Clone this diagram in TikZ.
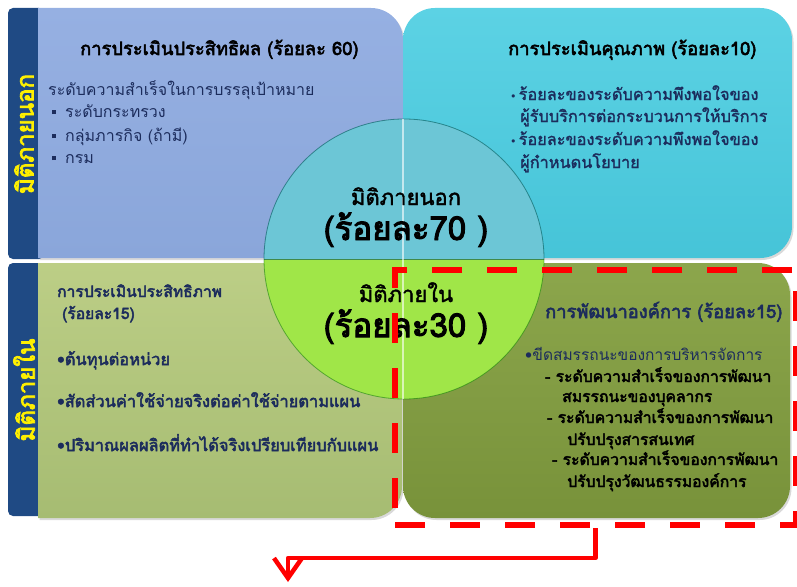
\documentclass[tikz,border=0pt]{standalone}
\usepackage{fontspec}
\newfontfamily\thai[Script=Thai]{Loma}
\newfontfamily\thaiB[Script=Thai,FakeBold=3]{Loma}
\newfontfamily\thaiM[Script=Thai,FakeBold=1.6]{Loma}
\newfontfamily\sym{DejaVu Sans}
\usetikzlibrary{arrows.meta,shadows}

\definecolor{barblue}{RGB}{31,74,132}
\definecolor{bartxt}{RGB}{255,240,0}
\definecolor{navy}{RGB}{28,44,92}
\definecolor{tlA}{RGB}{150,176,226}
\definecolor{tlB}{RGB}{138,166,218}
\definecolor{trA}{RGB}{92,210,228}
\definecolor{trB}{RGB}{70,196,216}
\definecolor{blA}{RGB}{188,206,134}
\definecolor{blB}{RGB}{166,188,114}
\definecolor{brA}{RGB}{140,166,76}
\definecolor{brB}{RGB}{120,146,58}
\definecolor{ctop}{RGB}{108,198,214}
\definecolor{cbot}{RGB}{160,230,72}
\definecolor{hotred}{RGB}{255,0,0}

\tikzset{
  boxshadow/.style={drop shadow={shadow xshift=1.5pt,shadow yshift=-2pt,opacity=0.25,fill=black!60}},
  txt/.style={anchor=base west,inner sep=0pt,font=\thai\fontsize{16}{18}\selectfont},
  tlbody/.style={txt,text=navy},
  trbody/.style={txt,text=navy,font=\thaiM\fontsize{16.3}{18}\selectfont},
  blbody/.style={txt,text=navy,font=\thaiB\fontsize{16.4}{18}\selectfont},
  brlead/.style={txt,text=navy,font=\thai\fontsize{15.5}{18}\selectfont},
  brbody/.style={txt,font=\thaiB\fontsize{15.7}{18}\selectfont},
  btxt/.style={txt,font=\thaiB\fontsize{18.3}{20}\selectfont},
  blhead/.style={txt,text=navy,font=\thaiB\fontsize{15.6}{18}\selectfont},
  bartext/.style={inner sep=0pt,text=bartxt,font=\thaiB\fontsize{24}{26}\selectfont},
  ctxt/.style={anchor=base,inner sep=0pt,font=\thaiM\fontsize{22}{24}\selectfont},
  cbig/.style={anchor=base,inner sep=0pt,font=\thaiB\fontsize{33}{35}\selectfont},
  focusbox/.style={draw=hotred,line width=6pt,dash pattern=on 30pt off 25pt,
    minimum width=401pt,minimum height=255pt,inner sep=0pt},
  pointer/.style={draw=hotred,line width=4.5pt,line join=round,
    -{Straight Barb[length=20pt,width=28pt,line width=4.5pt]}},
}

\begin{document}
\begin{tikzpicture}[x=1pt,y=-1pt]
\useasboundingbox (0,0) rectangle (797,586);

% side bars
\fill[barblue,rounded corners=5pt] (8,8) rectangle (44,259);
\fill[barblue,rounded corners=5pt] (8,263) rectangle (44,516);

% four quadrant boxes
\shade[boxshadow,top color=tlA,bottom color=tlB]
  (38,8) -- (371,8) arc[start angle=-90,end angle=0,radius=32] -- (403,258) -- (38,258) -- cycle;
\shade[boxshadow,top color=trA,bottom color=trB]
  (435,8) -- (760,8) arc[start angle=-90,end angle=0,radius=32]
  -- (792,226) arc[start angle=0,end angle=90,radius=32]
  -- (403,258) -- (403,40) arc[start angle=180,end angle=270,radius=32] -- cycle;
\shade[boxshadow,top color=blA,bottom color=blB]
  (38,263) -- (402,263) -- (402,486) arc[start angle=0,end angle=90,radius=32]
  -- (38,518) -- cycle;
\shade[boxshadow,top color=brA,bottom color=brB]
  (403,263) -- (758,263) arc[start angle=-90,end angle=0,radius=32]
  -- (790,486) arc[start angle=0,end angle=90,radius=32]
  -- (435,518) arc[start angle=90,end angle=180,radius=32] -- cycle;

% central disc
\fill[ctop] (264,259) arc[start angle=180,end angle=360,radius=140] -- cycle;
\fill[cbot] (544,259) arc[start angle=0,end angle=180,radius=140] -- cycle;
\draw[teal!70!black,line width=0.8pt,opacity=0.6] (264,259) arc[start angle=180,end angle=360,radius=140];
\draw[green!45!black,line width=0.8pt,opacity=0.5] (544,259) arc[start angle=0,end angle=180,radius=140];
\draw[teal!60!black,line width=1pt,opacity=0.6] (264,259) -- (544,259);
\draw[white,line width=1.2pt,opacity=0.6] (403,119) -- (403,399);

% side bar labels
\node[bartext,rotate=90] (outerlbl) at (24,134) {มิติภายนอก};
\node[bartext,rotate=90] (innerlbl) at (24,390) {มิติภายใน};

% top left: effectiveness
\node[btxt] (tltitle) at (80,55) {การประเมินประสิทธิผล (ร้อยละ 60)};
\node[tlbody] (tl1) at (48,95) {ระดับความสำเร็จในการบรรลุเป้าหมาย};
\node[tlbody] (tl2) at (52,117) {\rule[3pt]{4pt}{4pt}\hspace{9pt}ระดับกระทรวง};
\node[tlbody] (tl3) at (52,141) {\rule[3pt]{4pt}{4pt}\hspace{9pt}กลุ่มภารกิจ (ถ้ามี)};
\node[tlbody] (tl4) at (52,163) {\rule[3pt]{4pt}{4pt}\hspace{9pt}กรม};

% top right: quality
\node[btxt] (trtitle) at (508,55) {การประเมินคุณภาพ (ร้อยละ10)};
\node[trbody] (tr1) at (510,100) {{\sym\fontsize{11}{12}\selectfont •}\hspace{2pt}ร้อยละของระดับความพึงพอใจของ};
\node[trbody] (tr2) at (520,122) {ผู้รับบริการต่อกระบวนการให้บริการ};
\node[trbody] (tr3) at (510,145) {{\sym\fontsize{11}{12}\selectfont •}\hspace{2pt}ร้อยละของระดับความพึงพอใจของ};
\node[trbody] (tr4) at (520,168) {ผู้กำหนดนโยบาย};

% bottom left: efficiency
\node[blhead] (bltitle) at (57,297) {การประเมินประสิทธิภาพ};
\node[blhead] (blpct) at (62,319) {(ร้อยละ15)};
\node[blbody] (bl1) at (57,365) {•ต้นทุนต่อหน่วย};
\node[blbody] (bl2) at (57,407) {•สัดส่วนค่าใช้จ่ายจริงต่อค่าใช้จ่ายตามแผน};
\node[blbody] (bl3) at (57,451) {•ปริมาณผลผลิตที่ทำได้จริงเปรียบเทียบกับแผน};

% bottom right: organisational development
\node[btxt,text=navy] (brtitle) at (545,318) {การพัฒนาองค์การ (ร้อยละ15)};
\node[brlead] (br1) at (525,360) {•ขีดสมรรถนะของการบริหารจัดการ};
\node[brbody] (br2) at (545,382) {- ระดับความสำเร็จของการพัฒนา};
\node[brbody] (br3) at (562,402) {สมรรถนะของบุคลากร};
\node[brbody] (br4) at (547,423) {- ระดับความสำเร็จของการพัฒนา};
\node[brbody] (br5) at (567,445) {ปรับปรุงสารสนเทศ};
\node[brbody] (br6) at (552,465) {- ระดับความสำเร็จของการพัฒนา};
\node[brbody] (br7) at (567,487) {ปรับปรุงวัฒนธรรมองค์การ};

% disc labels
\node[ctxt] (outname) at (406,205) {มิติภายนอก};
\node[cbig] (outpct) at (406,240) {(ร้อยละ70 )};
\node[ctxt] (inname) at (406,302) {มิติภายใน};
\node[cbig] (inpct) at (406,337) {(ร้อยละ30 )};

% highlight frame and pointer
\node[focusbox] (focus) at (595.5,397.5) {};
\coordinate (tip) at (288,582);
\draw[pointer] (focus.south) -- ++(0,30) -| (tip);
\end{tikzpicture}
\end{document}
